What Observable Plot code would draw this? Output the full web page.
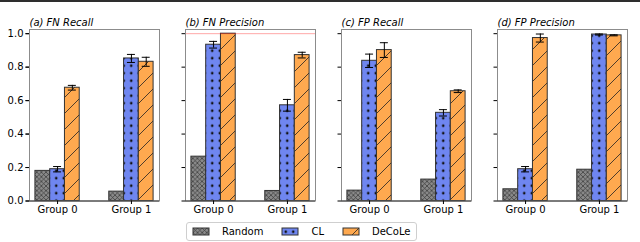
<!DOCTYPE html>
<html>
<head>
<meta charset="utf-8">
<script src="https://cdn.jsdelivr.net/npm/d3@7"></script>
<script src="https://cdn.jsdelivr.net/npm/@observablehq/plot@0.6"></script>
<style>
  html, body { margin: 0; padding: 0; background: white; }
  body { width: 640px; height: 242px; overflow: hidden; position: relative; font-family: "DejaVu Sans", sans-serif; }
  #topline { position: absolute; left: 0; top: 0; width: 640px; height: 2px; background: #2e2e2e; }
  #chart { position: absolute; left: 0; top: 2px; }
  #legend { position: absolute; left: 186px; top: 222px; height: 19px; box-sizing: border-box;
            border: 1px solid #cfcfcf; border-radius: 3px; padding: 0 6px; display: flex; align-items: center; background: white; }
  #legend .lg-swatches { margin: 0; font-family: "DejaVu Sans", sans-serif; font-size: 10px; color: #000; }
  #legend .lg-swatches-wrap { min-height: 0; }
  #legend .lg-swatch { margin-right: 19px; }
  #legend .lg-swatch:last-child { margin-right: 0; }
  #legend .lg-swatch > svg { margin-right: 13px; }
  #legend .lg-swatch rect { stroke: #333; stroke-width: 1; }
</style>
</head>
<body>
<div id="topline"></div>
<div id="chart"></div>
<div id="legend"></div>
<script>
// ---- data ----
const panels = ["(a) FN Recall", "(b) FN Precision", "(c) FP Recall", "(d) FP Precision"];
const groups = ["Group 0", "Group 1"];
const series = ["Random", "CL", "DeCoLe"];
const yTicks = [0, 0.2, 0.4, 0.6, 0.8, 1.0];
// values per panel: [Group 0, Group 1]
const randomVals = [[0.18, 0.056], [0.265, 0.06], [0.062, 0.128], [0.07, 0.187]];
const randomErr  = [[0, 0], [0, 0], [0, 0], [0, 0]];
const clVals     = [[0.19, 0.852], [0.934, 0.572], [0.838, 0.527], [0.19, 0.995]];
const clErr      = [[0.016, 0.024], [0.02, 0.035], [0.04, 0.019], [0.016, 0.003]];
const decoleVals = [[0.677, 0.832], [1.0, 0.872], [0.902, 0.656], [0.974, 0.99]];
const decoleErr  = [[0.014, 0.027], [0, 0.017], [0.044, 0.008], [0.024, 0.003]];
const referenceLine = [{panel: panels[1], value: 1.0}];

const seriesVals = [randomVals, clVals, decoleVals];
const seriesErr = [randomErr, clErr, decoleErr];
const fills = ["url(#hRandom)", "url(#hCL)", "url(#hDeCoLe)"];

const barW = 0.2;
const rows = [];
panels.forEach((p, pi) => groups.forEach((g, gi) => series.forEach((s, si) => {
  rows.push({panel: p, group: g, gi, series: s, si,
             value: seriesVals[si][pi][gi], err: seriesErr[si][pi][gi]});
})));
const center = d => d.gi + (d.si - 1) * barW;
const errRows = rows.filter(d => d.err > 0);

const barMarks = series.map((s, si) =>
  Plot.rect(rows.filter(d => d.si === si), {
    fx: "panel",
    x1: d => center(d) - barW / 2,
    x2: d => center(d) + barW / 2,
    y1: 0, y2: "value",
    fill: fills[si], stroke: "#333", strokeWidth: 1
  })
);

const chart = Plot.plot({
  width: 640, height: 218,
  marginTop: 27, marginBottom: 19.5, marginLeft: 29, marginRight: 13,
  style: {fontFamily: "DejaVu Sans", fontSize: "10px", background: "white", color: "black", overflow: "visible"},
  fx: {domain: panels, paddingInner: 26 / 156, paddingOuter: 0, axis: null, label: null},
  x: {domain: [-0.38, 1.38], label: null},
  y: {domain: [0, 1.025], label: null},
  marks: [
    ...barMarks,
    Plot.ruleX(errRows, {fx: "panel", x: center, y1: d => d.value - d.err, y2: d => d.value + d.err, stroke: "black", strokeWidth: 1}),
    Plot.ruleY(errRows, {fx: "panel", y: d => d.value + d.err, x1: d => center(d) - 0.054, x2: d => center(d) + 0.054, stroke: "black", strokeWidth: 1}),
    Plot.ruleY(errRows, {fx: "panel", y: d => d.value - d.err, x1: d => center(d) - 0.054, x2: d => center(d) + 0.054, stroke: "black", strokeWidth: 1}),
    Plot.ruleY(referenceLine, {fx: "panel", y: "value", stroke: "red", strokeOpacity: 0.35, strokeWidth: 1}),
    Plot.frame({stroke: "#8c8c8c", strokeWidth: 1}),
    Plot.ruleY([0], {stroke: "#333", strokeWidth: 1}),
    Plot.axisY({ticks: yTicks, tickFormat: d3.format(".1f"), tickSize: 3.5, tickPadding: 2.5, fontSize: 10, label: null}),
    Plot.axisY({ticks: yTicks, tickFormat: () => "", tickSize: 3.5, label: null, facetAnchor: null}),
    Plot.axisX({ticks: [0, 1], tickFormat: i => groups[i], tickSize: 3.5, tickPadding: 1.5, fontSize: 10, label: null}),
    Plot.text(panels, {fx: d => d, text: d => d, frameAnchor: "top-left", textAnchor: "start", lineAnchor: "bottom",
                       dy: -3.5, fontStyle: "italic", fontSize: 10})
  ]
});

// hatch patterns
const defs = `
<defs>
  <pattern id="hRandom" patternUnits="userSpaceOnUse" width="4.6" height="4.6">
    <rect width="4.6" height="4.6" fill="#8a8a8a"/>
    <path d="M0,0L4.6,4.6M-1,3.6L1,5.6M3.6,-1L5.6,1M0,4.6L4.6,0M-1,1L1,-1M3.6,5.6L5.6,3.6" stroke="#333" stroke-width="0.7" fill="none"/>
  </pattern>
  <pattern id="hCL" patternUnits="userSpaceOnUse" width="7.5" height="7.5">
    <rect width="7.5" height="7.5" fill="#6f86f0"/>
    <circle cx="3.75" cy="3.75" r="1.3" fill="#111"/>
  </pattern>
  <pattern id="hDeCoLe" patternUnits="userSpaceOnUse" width="16" height="16">
    <rect width="16" height="16" fill="#ffa94f"/>
    <path d="M0,16L16,0M-2,2L2,-2M14,18L18,14" stroke="#222" stroke-width="0.8" fill="none"/>
  </pattern>
</defs>`;
chart.insertAdjacentHTML("afterbegin", defs);
document.getElementById("chart").append(chart);

const legend = Plot.legend({
  color: {type: "ordinal", domain: series, range: fills},
  legend: "swatches", swatchWidth: 16, swatchHeight: 7, className: "lg"
});
document.getElementById("legend").append(legend);
</script>
</body>
</html>
